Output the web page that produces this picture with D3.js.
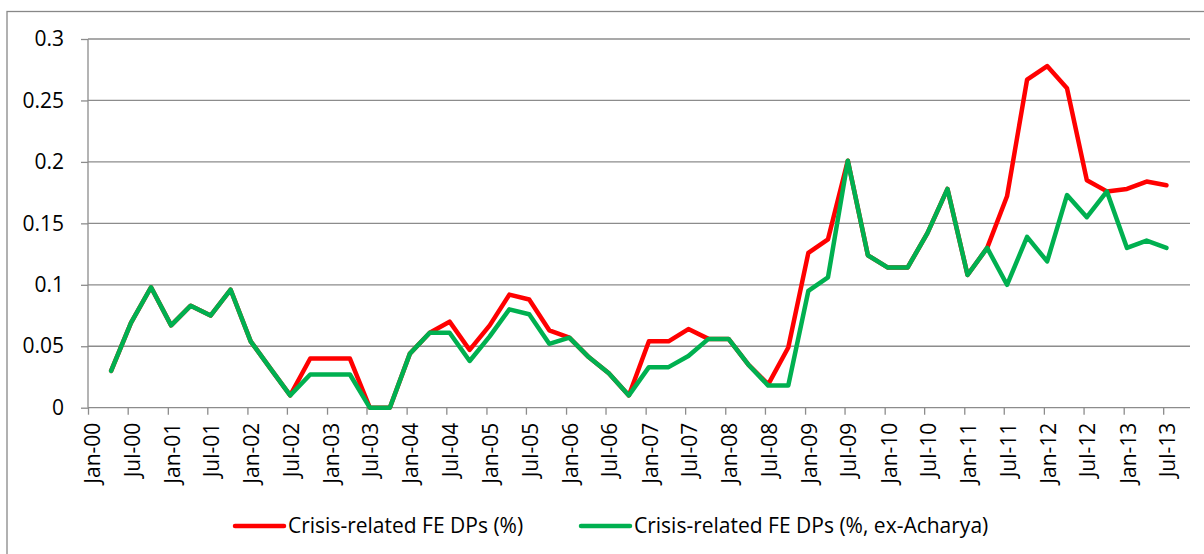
<!DOCTYPE html>
<html>
<head>
<meta charset="utf-8">
<script src="https://cdn.jsdelivr.net/npm/d3@7"></script>
<style>
  body { margin: 0; background: #fff; }
  svg { display: block; font-family: "Open Sans", sans-serif; }
</style>
</head>
<body>
<svg id="chart" width="1204" height="554"></svg>
<script>
// quarterly observations
const dates = [
  "Apr-00","Jul-00","Oct-00","Jan-01","Apr-01","Jul-01","Oct-01","Jan-02","Apr-02","Jul-02",
  "Oct-02","Jan-03","Apr-03","Jul-03","Oct-03","Jan-04","Apr-04","Jul-04","Oct-04","Jan-05",
  "Apr-05","Jul-05","Oct-05","Jan-06","Apr-06","Jul-06","Oct-06","Jan-07","Apr-07","Jul-07",
  "Oct-07","Jan-08","Apr-08","Jul-08","Oct-08","Jan-09","Apr-09","Jul-09","Oct-09","Jan-10",
  "Apr-10","Jul-10","Oct-10","Jan-11","Apr-11","Jul-11","Oct-11","Jan-12","Apr-12","Jul-12",
  "Oct-12","Jan-13","Apr-13","Jul-13"
];

const crisisAll = [
  0.030, 0.069, 0.098, 0.067, 0.083, 0.075, 0.096, 0.054, 0.032, 0.010,
  0.040, 0.040, 0.040, 0.000, 0.000, 0.044, 0.061, 0.070, 0.047, 0.067,
  0.092, 0.088, 0.063, 0.057, 0.041, 0.028, 0.010, 0.054, 0.054, 0.064,
  0.056, 0.056, 0.035, 0.019, 0.049, 0.126, 0.137, 0.201, 0.124, 0.114,
  0.114, 0.142, 0.178, 0.108, 0.130, 0.172, 0.267, 0.278, 0.260, 0.185,
  0.176, 0.178, 0.184, 0.181
];

const crisisExAcharya = [
  0.030, 0.069, 0.098, 0.067, 0.083, 0.075, 0.096, 0.054, 0.032, 0.010,
  0.027, 0.027, 0.027, 0.000, 0.000, 0.044, 0.061, 0.061, 0.038, 0.058,
  0.080, 0.076, 0.052, 0.057, 0.041, 0.028, 0.010, 0.033, 0.033, 0.042,
  0.056, 0.056, 0.035, 0.018, 0.018, 0.095, 0.106, 0.201, 0.124, 0.114,
  0.114, 0.142, 0.178, 0.108, 0.130, 0.100, 0.139, 0.119, 0.173, 0.155,
  0.176, 0.130, 0.136, 0.130
];

const seriesNames = ["Crisis-related FE DPs (%)", "Crisis-related FE DPs (%, ex-Acharya)"];
const seriesColors = ["#ff0000", "#00b050"];

const xTickLabels = [
  "Jan-00","Jul-00","Jan-01","Jul-01","Jan-02","Jul-02","Jan-03","Jul-03","Jan-04","Jul-04",
  "Jan-05","Jul-05","Jan-06","Jul-06","Jan-07","Jul-07","Jan-08","Jul-08","Jan-09","Jul-09",
  "Jan-10","Jul-10","Jan-11","Jul-11","Jan-12","Jul-12","Jan-13","Jul-13"
];
const yTicks = [0, 0.05, 0.1, 0.15, 0.2, 0.25, 0.3];

const PLOT = {left: 88, right: 1190, top: 39, bottom: 407.7};
const GRID = "#8c8c8c";
const FONT = "21px";

const parseMonth = d3.timeParse("%b-%y");
// excel date axis puts each monthly point in the middle of its month slot
const midMonth = (s) => d3.timeDay.offset(parseMonth(s), 15);

const svg = d3.select("#chart");

// outer chart border
svg.append("rect")
    .attr("x", 7).attr("y", 11.5)
    .attr("width", 1220).attr("height", 560)
    .attr("fill", "none")
    .attr("stroke", "#888")
    .attr("stroke-width", 1.3);

const X_SCALE = d3.scaleTime()
    .domain([parseMonth("Jan-00"), parseMonth("Nov-13")])
    .range([PLOT.left, PLOT.right]);

const Y_SCALE = d3.scaleLinear()
    .domain([0, 0.3])
    .range([PLOT.bottom, PLOT.top]);

// horizontal gridlines
svg.append("g")
  .selectAll("line")
  .data(yTicks.slice(1))
  .enter()
  .append("line")
    .attr("x1", PLOT.left).attr("x2", PLOT.right)
    .attr("y1", d => Y_SCALE(d)).attr("y2", d => Y_SCALE(d))
    .attr("stroke", GRID)
    .attr("stroke-width", 1.3);

// y axis
const yAxis = svg.append("g")
    .attr("transform", "translate(" + PLOT.left + ",0)")
    .call(d3.axisLeft(Y_SCALE).tickValues(yTicks).tickSize(7).tickPadding(17)
          .tickFormat(d => String(+d.toFixed(2))));
yAxis.selectAll("line, path").attr("stroke", GRID).attr("stroke-width", 1.3);
yAxis.select(".domain").attr("d", "M0," + PLOT.top + "V" + PLOT.bottom);
yAxis.selectAll("text").attr("font-size", FONT).attr("fill", "#000")
    .attr("font-family", "'Open Sans', sans-serif");

// x axis
const xAxis = svg.append("g")
    .attr("transform", "translate(0," + PLOT.bottom + ")")
    .call(d3.axisBottom(X_SCALE).tickValues(xTickLabels.map(parseMonth))
          .tickSize(7).tickFormat(d3.timeFormat("%b-%y")));
xAxis.selectAll("line, path").attr("stroke", GRID).attr("stroke-width", 1.3);
xAxis.select(".domain").attr("d", "M" + PLOT.left + ",0H" + PLOT.right);
xAxis.selectAll("text")
    .attr("font-size", FONT).attr("fill", "#000")
    .attr("font-family", "'Open Sans', sans-serif")
    .attr("text-anchor", "end")
    .attr("transform", "rotate(-90)")
    .attr("x", -15).attr("y", 4)
    .attr("dy", "0.35em");

// lines
const line = d3.line()
    .x((d, i) => X_SCALE(midMonth(dates[i])))
    .y(d => Y_SCALE(d));

[crisisAll, crisisExAcharya].forEach((vals, k) => {
  svg.append("path")
      .datum(vals)
      .attr("d", line)
      .attr("fill", "none")
      .attr("stroke", seriesColors[k])
      .attr("stroke-width", 4.5)
      .attr("stroke-linejoin", "round")
      .attr("stroke-linecap", "round");
});

// legend
const legendX = [235, 581];
const legend = svg.append("g").selectAll("g")
  .data(seriesNames)
  .enter()
  .append("g")
    .attr("transform", (d, i) => "translate(" + legendX[i] + ",526)");
legend.append("line")
    .attr("x1", 0).attr("x2", 49)
    .attr("stroke", (d, i) => seriesColors[i])
    .attr("stroke-width", 4.5)
    .attr("stroke-linecap", "round");
legend.append("text")
    .attr("x", 53).attr("dy", "0.35em")
    .attr("font-size", FONT)
    .attr("fill", "#000")
    .text(d => d);
</script>
</body>
</html>
